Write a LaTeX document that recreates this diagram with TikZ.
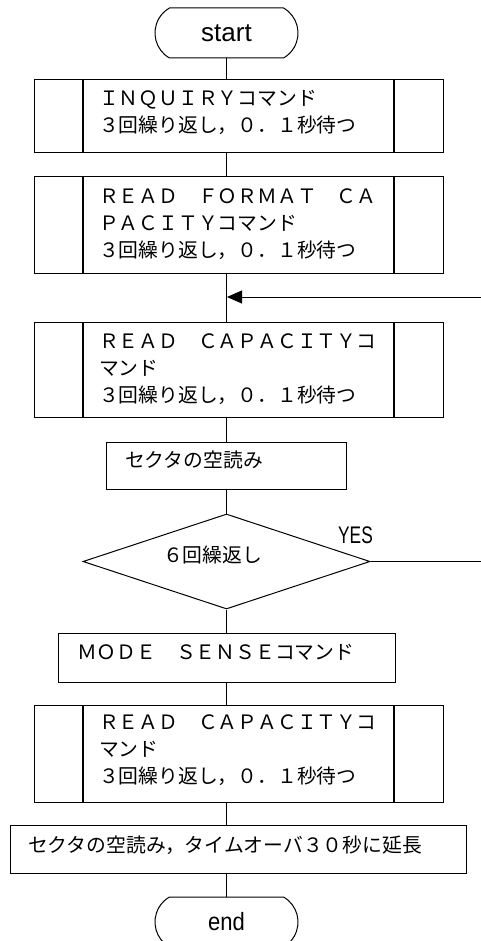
\documentclass[tikz,border=0pt]{standalone}
\usepackage{fontspec}
\newfontfamily\jp{Noto Sans CJK JP}
\newfontfamily\lat{Liberation Sans}
\newfontfamily\latn[FakeStretch=0.72]{Liberation Sans}
\newfontfamily\latm[FakeStretch=0.88]{Liberation Sans}
\newcommand\jpset{\jp\fontsize{19.8}{27}\selectfont\lineskiplimit=-100pt\relax\lineskip=0pt\relax}
\usetikzlibrary{shapes.geometric,shapes.misc,arrows.meta}
\begin{document}
\begin{tikzpicture}[x=1pt,y=-1pt,line width=1pt,
  jpfont/.style={font=\jpset},
  proc/.style={draw, rectangle, inner sep=0pt, jpfont, align=left},
  pred/.style={proc, minimum width=409pt, text width=279pt, text height=0pt,
    path picture={\draw[line width=1.2pt]
      ([xshift=49pt]path picture bounding box.north west) -- ([xshift=49pt]path picture bounding box.south west)
      ([xshift=-49pt]path picture bounding box.north east) -- ([xshift=-49pt]path picture bounding box.south east);}},
  term/.style={draw, rounded rectangle, rounded rectangle arc length=120, minimum width=143pt, minimum height=50pt, inner sep=0pt},
  dec/.style={draw, diamond, aspect=3, minimum width=287pt, minimum height=95pt, inner sep=0pt, jpfont},
  conn/.style={line width=1pt},
  looparrow/.style={line width=1pt, -{Triangle[length=15pt,width=13pt]}}]
\useasboundingbox (0,0) rectangle (481,941);

\node[term, font=\lat\fontsize{26}{30}\selectfont] (start) at (226.5,33) {start};
\node[pred, minimum height=73pt, text depth=21.4pt] (b1) at (238.5,116.5) {ＩＮＱＵＩＲＹコマンド\\３回繰り返し，０．１秒待つ};
\node[pred, minimum height=96pt, text depth=43.4pt] (b2) at (238.5,225) {ＲＥＡＤ　ＦＯＲＭＡＴ　ＣＡ\\ＰＡＣＩＴＹコマンド\\３回繰り返し，０．１秒待つ};
\coordinate (merge) at (227,297);
\node[pred, minimum height=95pt, text depth=42.4pt] (b3) at (238.5,369.5) {ＲＥＡＤ　ＣＡＰＡＣＩＴＹコ\\マンド\\３回繰り返し，０．１秒待つ};
\node[proc, minimum width=240pt, minimum height=47pt, text width=202pt, text height=4pt, text depth=0pt] (s1) at (226,465.5) {セクタの空読み};
\node[dec, text height=2pt, text depth=0pt] (d) at (226.5,561.5) {６回繰返し\kern28pt\relax};
\node[font=\latn\fontsize{24}{28}\selectfont] (yes) at (355.5,535) {YES};
\node[proc, minimum width=337pt, minimum height=49pt, text width=299pt, text height=4pt, text depth=0pt] (m) at (226.5,657.5) {ＭＯＤＥ　ＳＥＮＳＥコマンド};
\node[pred, minimum height=97pt, text depth=47.4pt] (b4) at (238.5,753.5) {ＲＥＡＤ　ＣＡＰＡＣＩＴＹコ\\マンド\\３回繰り返し，０．１秒待つ};
\node[proc, minimum width=456pt, minimum height=48pt, text width=420pt, text height=7pt, text depth=0pt] (last) at (238,849) {セクタの空読み，タイムオーバ３０秒に延長};
\node[term, font=\latm\fontsize{25}{30}\selectfont] (end) at (226.5,922) {end};

\coordinate (lc1) at (486,561.5);
\coordinate (lc2) at (486,297);

\draw[conn] (start.south) -- (start.south |- b1.north);
\draw[conn] (start.south |- b1.south) -- (start.south |- b2.north);
\draw[conn] (start.south |- b2.south) -- (start.south |- b3.north);
\draw[conn] (start.south |- b3.south) -- (s1.north -| start.south);
\draw[conn] (s1.south -| start.south) -- (d.north);
\draw[conn] (d.south) -- (m.north);
\draw[conn] (m.south) -- (m.south |- b4.north);
\draw[conn] (m.south |- b4.south) -- (m.south |- last.north);
\draw[conn] (m.south |- last.south) -- (end.north);
\draw[looparrow] (d.east) -- (lc1) -- (lc2) -- (merge);
\end{tikzpicture}
\end{document}
